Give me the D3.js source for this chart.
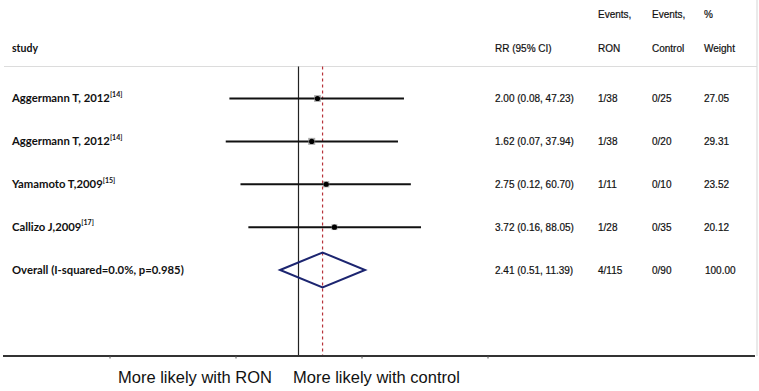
<!DOCTYPE html>
<html>
<head>
<meta charset="utf-8">
<script src="https://cdn.jsdelivr.net/npm/d3@7"></script>
<style>
  html, body { margin: 0; padding: 0; background: #fff; }
  svg { display: block; }
</style>
</head>
<body>
<svg id="chart" width="759" height="391"></svg>
<script>
// ---- data ----
const studies = ["Aggermann T, 2012", "Aggermann T, 2012", "Yamamoto T,2009", "Callizo J,2009"];
const refs = ["[14]", "[14]", "[15]", "[17]"];
const rr = [2.00, 1.62, 2.75, 3.72];
const lo = [0.08, 0.07, 0.12, 0.16];
const hi = [47.23, 37.94, 60.70, 88.05];
const eventsRON = ["1/38", "1/38", "1/11", "1/28"];
const eventsControl = ["0/25", "0/20", "0/10", "0/35"];
const weights = [27.05, 29.31, 23.52, 20.12];
const overallLabel = "Overall (I-squared=0.0%, p=0.985)";
const overall = { rr: 2.41, lo: 0.51, hi: 11.39, ron: "4/115", control: "0/90", weight: "100.00" };
const axisTicks = [0.001, 0.1, 10, 1000];
const bottomLabels = ["More likely with RON", "More likely with control"];

// ---- layout ----
const svg = d3.select("#chart");
const x = d3.scaleLog().domain([0.001, 1000]).range([109.5, 487.5]);
const rowIdx = d3.range(studies.length + 1);
const y = d3.scalePoint().domain(rowIdx).range([98.5, 270]);
const topY = 66.5, axisY = 356;
const colRR = 495, colRON = 598, colCtl = 652, colW = 704;
const arial = "'Liberation Sans', Arial, sans-serif";
const calibri = "Lato, 'Open Sans', sans-serif";
const fmt = d3.format(".2f");
const labSize = 11.3;

// frame lines
svg.append("line").attr("x1", 4).attr("x2", 757).attr("y1", topY).attr("y2", topY)
  .attr("stroke", "#dcdcdc").attr("stroke-width", 1.2);
svg.append("line").attr("x1", 757).attr("x2", 757).attr("y1", 0).attr("y2", axisY)
  .attr("stroke", "#dcdcdc").attr("stroke-width", 1.2);

// headers
const hdr = svg.append("g").attr("font-family", arial).attr("font-size", 10).attr("fill", "#111")
  .attr("stroke", "#111").attr("stroke-width", 0.2);
hdr.append("text").attr("x", 12).attr("y", 48).attr("dy", "0.35em")
  .attr("font-family", calibri).attr("font-weight", "bold").attr("font-size", 10.5).attr("stroke", "none").text("study");
hdr.append("text").attr("x", colRR).attr("y", 48).attr("dy", "0.35em").text("RR (95% CI)");
hdr.append("text").attr("x", colRON).attr("y", 14).attr("dy", "0.35em").text("Events,");
hdr.append("text").attr("x", colRON).attr("y", 48).attr("dy", "0.35em").text("RON");
hdr.append("text").attr("x", colCtl).attr("y", 14).attr("dy", "0.35em").text("Events,");
hdr.append("text").attr("x", colCtl).attr("y", 48).attr("dy", "0.35em").text("Control");
hdr.append("text").attr("x", colW).attr("y", 14).attr("dy", "0.35em").text("%");
hdr.append("text").attr("x", colW).attr("y", 48).attr("dy", "0.35em").text("Weight");

// null line and overall line
svg.append("line").attr("x1", x(1)).attr("x2", x(1)).attr("y1", topY).attr("y2", axisY)
  .attr("stroke", "#222").attr("stroke-width", 1.2);
svg.append("line").attr("x1", x(overall.rr)).attr("x2", x(overall.rr)).attr("y1", topY).attr("y2", axisY)
  .attr("stroke", "#b8333a").attr("stroke-width", 1.2).attr("stroke-dasharray", "3,3");

// study rows
const rows = svg.append("g");
studies.forEach((s, i) => {
  const yy = y(i);
  const lab = rows.append("text").attr("x", 12).attr("y", yy).attr("dy", "0.35em")
    .attr("font-family", calibri).attr("font-weight", "bold").attr("font-size", labSize).attr("fill", "#111");
  lab.append("tspan").text(s);
  lab.append("tspan").attr("font-size", 7).attr("dy", "-0.8em").text(refs[i]);

  rows.append("line").attr("x1", x(lo[i])).attr("x2", x(hi[i])).attr("y1", yy).attr("y2", yy)
    .attr("stroke", "#111").attr("stroke-width", 2);
  const side = Math.sqrt(weights[i]) * 1.3;
  rows.append("rect").attr("x", x(rr[i]) - side / 2).attr("y", yy - side / 2)
    .attr("width", side).attr("height", side).attr("fill", "#8a8a8a").attr("opacity", 0.7);
  rows.append("circle").attr("cx", x(rr[i])).attr("cy", yy).attr("r", 2.6).attr("fill", "#000");

  const g = rows.append("g").attr("font-family", arial).attr("font-size", 10).attr("fill", "#111")
    .attr("stroke", "#111").attr("stroke-width", 0.2);
  g.append("text").attr("x", colRR).attr("y", yy).attr("dy", "0.35em")
    .text(`${fmt(rr[i])} (${fmt(lo[i])}, ${fmt(hi[i])})`);
  g.append("text").attr("x", colRON).attr("y", yy).attr("dy", "0.35em").text(eventsRON[i]);
  g.append("text").attr("x", colCtl).attr("y", yy).attr("dy", "0.35em").text(eventsControl[i]);
  g.append("text").attr("x", colW).attr("y", yy).attr("dy", "0.35em").text(fmt(weights[i]));
});

// overall row
const oy = y(studies.length);
rows.append("text").attr("x", 12).attr("y", oy).attr("dy", "0.35em")
  .attr("font-family", calibri).attr("font-weight", "bold").attr("font-size", labSize).attr("fill", "#111")
  .text(overallLabel);
const dh = 17.5;
rows.append("path")
  .attr("d", `M${x(overall.lo)},${oy} L${x(overall.rr)},${oy - dh} L${x(overall.hi)},${oy} L${x(overall.rr)},${oy + dh} Z`)
  .attr("fill", "none").attr("stroke", "#1c2570").attr("stroke-width", 2);
const og = rows.append("g").attr("font-family", arial).attr("font-size", 10).attr("fill", "#111")
  .attr("stroke", "#111").attr("stroke-width", 0.2);
og.append("text").attr("x", colRR).attr("y", oy).attr("dy", "0.35em")
  .text(`${fmt(overall.rr)} (${fmt(overall.lo)}, ${fmt(overall.hi)})`);
og.append("text").attr("x", colRON).attr("y", oy).attr("dy", "0.35em").text(overall.ron);
og.append("text").attr("x", colCtl).attr("y", oy).attr("dy", "0.35em").text(overall.control);
og.append("text").attr("x", colW + 1).attr("y", oy).attr("dy", "0.35em").text(overall.weight);

// bottom axis
svg.append("line").attr("x1", 3).attr("x2", 755).attr("y1", axisY).attr("y2", axisY)
  .attr("stroke", "#333").attr("stroke-width", 2);
const ax = svg.append("g").attr("transform", `translate(0,${axisY})`)
  .call(d3.axisBottom(x).tickValues(axisTicks).tickSize(2.5).tickFormat(""));
ax.select(".domain").remove();
ax.selectAll(".tick line").attr("stroke", "#555");

// bottom labels
svg.append("text").attr("x", 118).attr("y", 377).attr("dy", "0.35em")
  .attr("font-family", arial).attr("font-size", 16.5).attr("fill", "#111").text(bottomLabels[0]);
svg.append("text").attr("x", 293).attr("y", 377).attr("dy", "0.35em")
  .attr("font-family", arial).attr("font-size", 16.5).attr("fill", "#111").text(bottomLabels[1]);
</script>
</body>
</html>
